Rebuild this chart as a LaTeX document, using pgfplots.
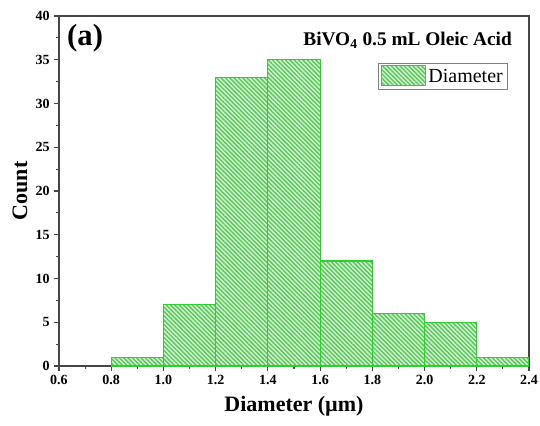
\documentclass[border=0pt]{standalone}
\usepackage{fontspec}
\setmainfont{Liberation Serif}
\usepackage{pgfplots}
\pgfplotsset{compat=1.18}
\usetikzlibrary{patterns.meta}
\definecolor{hatchlight}{RGB}{205,242,205}
\definecolor{hatchdark}{RGB}{90,198,90}
\definecolor{edgegreen}{RGB}{50,205,50}
\definecolor{axgray}{RGB}{70,70,70}
\begin{document}
\begin{tikzpicture}
\begin{axis}[
  scale only axis,
  width=352.5pt, height=262.5pt,
  xmin=0.6, xmax=2.4, ymin=0, ymax=40,
  xtick={0.6,0.8,...,2.4},
  ytick={0,5,...,40},
  minor x tick num=1, minor y tick num=1,
  tick pos=left, tick align=outside,
  major tick length=3.5pt, minor tick length=2pt,
  axis line style={axgray, line width=0.9pt},
  every tick/.style={axgray, line width=0.8pt},
  /pgf/number format/assume math mode=true,
  tick label style={font=\bfseries\fontsize{10.5}{12}\selectfont},
  xticklabel style={/pgf/number format/.cd, fixed, fixed zerofill, precision=1},
  yticklabel style={/pgf/number format/.cd, fixed, precision=0},
  xlabel={Diameter (µm)}, ylabel={Count},
  label style={font=\bfseries\fontsize{16.5}{19}\selectfont},
  xlabel style={at={(axis description cs:0.5,-0.114)}, anchor=center},
  ylabel style={at={(axis description cs:-0.083,0.5)}, anchor=center},
  legend style={at={(rel axis cs:0.955,0.866)}, anchor=north east, draw=gray, line width=0.6pt,
    font=\fontsize{15}{17}\selectfont, inner sep=1.5pt, row sep=0pt},
  legend image code/.code={\draw[#1] (0pt,-6.5pt) rectangle (33pt,8.5pt);},
]
\addplot[ybar interval, draw=edgegreen, line width=0.9pt, fill=hatchlight,
  postaction={pattern={Lines[angle=-45,distance=2.3pt,line width=1pt]}, pattern color=hatchdark}]
  coordinates {(0.8,1) (1.0,7) (1.2,33) (1.4,35) (1.6,12) (1.8,6) (2.0,5) (2.2,1) (2.4,1)};
\addlegendentry{Diameter}
\node[anchor=east, font=\bfseries\fontsize{14.5}{17}\selectfont, inner sep=0pt] at (rel axis cs:0.964,0.93) {BiVO\textsubscript{4} 0.5 mL Oleic Acid};
\node[anchor=west, font=\bfseries\fontsize{23}{26}\selectfont, inner sep=0pt] at (rel axis cs:0.017,0.937) {(a)};
\coordinate (bbsw) at (rel axis cs:-0.1255,-0.1686);
\coordinate (bbne) at (rel axis cs:1.0234,1.0457);
\end{axis}
\pgfresetboundingbox
\path[use as bounding box] (bbsw) rectangle (bbne);
\end{tikzpicture}
\end{document}
